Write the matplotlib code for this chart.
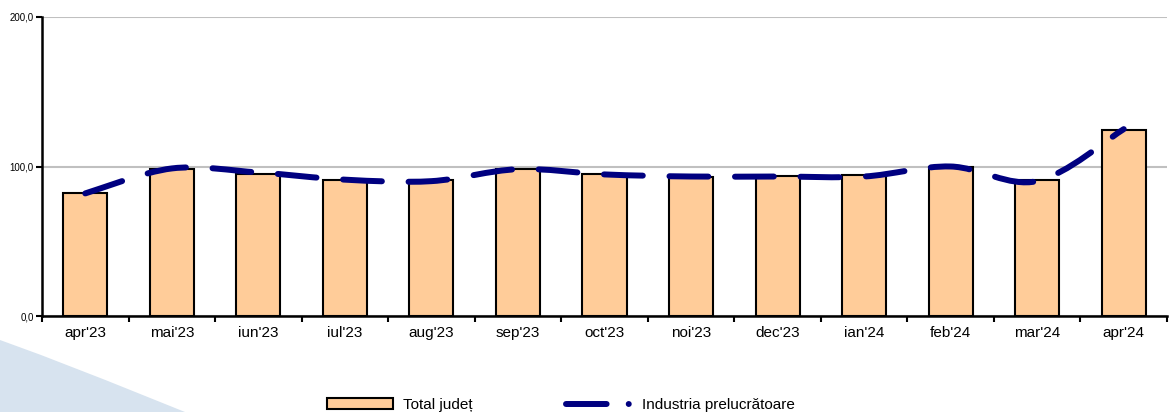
import numpy as np
import matplotlib
matplotlib.use("Agg")
from matplotlib import pyplot as plt
from matplotlib.path import Path
from matplotlib.patches import PathPatch, Patch, Polygon
from matplotlib.lines import Line2D

plt.rcParams['font.family'] = ['Liberation Sans', 'DejaVu Sans']

months = ["apr'23", "mai'23", "iun'23", "iul'23", "aug'23", "sep'23", "oct'23",
          "noi'23", "dec'23", "ian'24", "feb'24", "mar'24", "apr'24"]
total_judet = [82.0, 98.0, 95.3, 91.3, 91.0, 98.0, 95.0, 93.2, 93.5, 94.0, 99.5, 91.3, 124.7]
industria = [82.0, 98.7, 96.0, 91.2, 90.2, 98.2, 94.7, 93.3, 93.3, 93.3, 100.0, 90.2, 125.0]
y_ticks = [0, 100, 200]
y_tick_labels = ["0,0", "100,0", "200,0"]

fig = plt.figure(figsize=(11.71, 4.12), dpi=100)

# light blue decoration in the lower left corner
fig.patches.append(Polygon([[0, 1 - 340 / 412], [0.035, 1 - 355 / 412], [0.09, 1 - 380 / 412],
                            [185 / 1171, 0], [0, 0]], closed=True,
                           transform=fig.transFigure, facecolor='#d7e3ef',
                           edgecolor='none', zorder=0))

ax = fig.add_axes([42 / 1171, 1 - 316 / 412, 1125 / 1171, 299 / 412])
ax.patch.set_alpha(0)

x = np.arange(len(months))
ax.bar(x, total_judet, width=0.51, color='#ffcc99', edgecolor='black', linewidth=1.5, zorder=2)

# smoothed line (Excel style bezier through the data points)
pts = np.column_stack([x, industria]).astype(float)
verts = [pts[0]]
codes = [Path.MOVETO]
n = len(pts)
for i in range(n - 1):
    p_prev = pts[i - 1] if i > 0 else pts[i]
    p_next2 = pts[i + 2] if i + 2 < n else pts[i + 1]
    c1 = pts[i] + (pts[i + 1] - p_prev) / 6
    c2 = pts[i + 1] - (p_next2 - pts[i]) / 6
    verts += [c1, c2, pts[i + 1]]
    codes += [Path.CURVE4] * 3
line = PathPatch(Path(verts, codes), facecolor='none', edgecolor='#000080',
                 linewidth=4.3, linestyle=(0, (6.5, 4.47)), capstyle='round', zorder=3)
ax.add_patch(line)

ax.set_xlim(-0.5, 12.5)
ax.set_ylim(0, 200)
ax.set_yticks(y_ticks)
ax.set_yticklabels(y_tick_labels, fontsize=7)
ax.yaxis.grid(True, color='#c0c0c0', linewidth=1.5)
ax.set_axisbelow(True)

ax.set_xticks(np.arange(-0.5, 13, 1))
ax.set_xticklabels([])
ax.set_xticks(x, minor=True)
ax.set_xticklabels(months, minor=True, fontsize=11)
ax.tick_params(axis='x', which='minor', length=0, pad=7)
ax.tick_params(axis='x', which='major', length=4.5, width=1.5, direction='out')
ax.tick_params(axis='y', length=4, width=1.5, direction='out', pad=2)

for s in ['top', 'right']:
    ax.spines[s].set_visible(False)
for s in ['left', 'bottom']:
    ax.spines[s].set_linewidth(1.8)

leg_y = 1 - 405 / 412
leg_kw = dict(loc='center left', frameon=False, fontsize=11, handlelength=4.32,
              handleheight=0.7, handletextpad=0.65, borderpad=0, borderaxespad=0)
fig.legend([Patch(facecolor='#ffcc99', edgecolor='black', linewidth=1.5)], ["Total județ"],
           bbox_to_anchor=(327 / 1171, leg_y), **leg_kw)
fig.legend([Line2D([0], [0], color='#000080', linewidth=4.3,
                   dashes=(6.8, 3.7, 0.01, 20), dash_capstyle='round')],
           ["Industria prelucrătoare"], bbox_to_anchor=(566 / 1171, leg_y), **leg_kw)

fig.savefig("out.png", dpi=100)
